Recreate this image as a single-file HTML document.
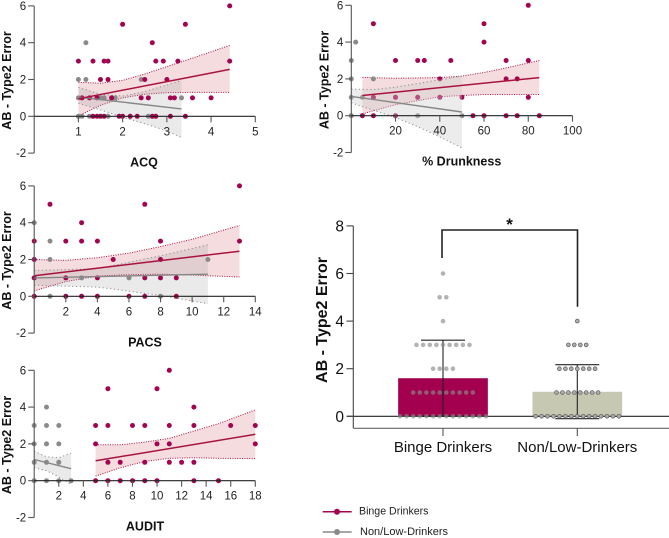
<!DOCTYPE html>
<html>
<head>
<meta charset="utf-8">
<title>AB - Type2 Error charts</title>
<style>
html,body{margin:0;padding:0;background:#fff;width:669px;height:538px;overflow:hidden}
svg{display:block;font-family:"Liberation Sans",sans-serif}
</style>
</head>
<body>
<svg id="figure" xmlns="http://www.w3.org/2000/svg" width="669" height="538" viewBox="0 0 669 538"></svg>
<script>
/* ---------- ACQ ---------- */
const acqXTicks = [1, 2, 3, 4, 5];
const acqBingeX = [4.42, 2, 3.42, 2.67, 1, 1.33, 1.58, 1.67, 2.75, 2.92, 3.25, 4.42, 1.5, 1.67, 2.5, 3, 1.08, 1.25, 1.42, 1.75, 2.42, 2.58, 3.08, 3.17, 3.58, 4, 1.33, 1.42, 1.5, 1.58, 1.92, 2, 2.17, 2.33, 2.67, 2.75, 3.08, 3.42];
const acqBingeY = [6, 5, 5, 4, 3, 3, 3, 3, 3, 3, 3, 3, 2, 2, 2, 2, 1, 1, 1, 1, 1, 1, 1, 1, 1, 1, 0, 0, 0, 0, 0, 0, 0, 0, 0, 0, 0, 0];
const acqNonX = [1.17, 1, 1.17, 2.42, 1, 1.5, 1.58, 1.83, 3.33, 1, 1.08, 1.25, 1.67, 2.58];
const acqNonY = [4, 2, 2, 2, 1, 1, 1, 1, 1, 0, 0, 0, 0, 0];
const acqBingeLineX = [1, 4.42];
const acqBingeLineY = [0.95, 2.55];
const acqBingeBandX = [1, 1.5, 2, 2.5, 3, 3.5, 4.42];
const acqBingeUpper = [1.85, 1.8, 1.95, 2.3, 2.7, 3.1, 3.85];
const acqBingeLower = [0.02, 0.6, 1, 1.2, 1.28, 1.3, 1.3];
const acqNonLineX = [1, 3.33];
const acqNonLineY = [1.05, 0.4];
const acqNonBandX = [1, 1.5, 2, 2.5, 3, 3.33];
const acqNonUpper = [1.57, 1.2, 1.1, 1.35, 1.7, 1.95];
const acqNonLower = [0.7, 0.35, -0.05, -0.4, -0.8, -1.15];

/* ---------- % Drunkness ---------- */
const drunkXTicks = [20, 40, 60, 80, 100];
const drunkBingeX = [80, 10, 60, 60, 20, 30, 33, 45, 70, 80, 40, 70, 75, 10, 20, 30, 40, 50, 80, 5, 10, 20, 55, 60, 70, 75, 85];
const drunkBingeY = [6, 5, 5, 4, 3, 3, 3, 3, 3, 3, 2, 2, 2, 1, 1, 1, 1, 1, 1, 0, 0, 0, 0, 0, 0, 0, 0];
const drunkNonX = [2, 0, 0, 10, 0, 5, 10, 20, 0, 20, 30, 50];
const drunkNonY = [4, 3, 2, 2, 1, 1, 1, 1, 0, 0, 0, 0];
const drunkBingeLineX = [5, 85];
const drunkBingeLineY = [1.1, 2.07];
const drunkBingeBandX = [5, 20, 40, 50, 60, 70, 85];
const drunkBingeUpper = [2.08, 2.03, 2.07, 2.15, 2.35, 2.6, 3];
const drunkBingeLower = [0.1, 0.6, 1.03, 1.1, 1.15, 1.15, 1.15];
const drunkNonLineX = [0, 50];
const drunkNonLineY = [1.05, 0.2];
const drunkNonBandX = [0, 10, 20, 30, 40, 50];
const drunkNonUpper = [1.45, 1.42, 1.55, 1.75, 1.95, 2.15];
const drunkNonLower = [0.7, 0.3, -0.1, -0.6, -1.15, -1.75];

/* ---------- PACS ---------- */
const pacsXTicks = [2, 4, 6, 8, 10, 12, 14];
const pacsBingeX = [13, 1, 7, 3, 0, 2, 3, 4, 8, 13, 0, 5, 8, 0, 2, 4, 7, 8, 9, 0, 2, 3, 4, 6, 7, 9];
const pacsBingeY = [6, 5, 5, 4, 3, 3, 3, 3, 3, 3, 2, 2, 2, 1, 1, 1, 1, 1, 1, 0, 0, 0, 0, 0, 0, 0];
const pacsNonX = [0, 1, 1, 11, 0, 3, 6, 1, 8];
const pacsNonY = [4, 3, 2, 2, 1, 1, 1, 0, 0];
const pacsBingeLineX = [0, 13];
const pacsBingeLineY = [1.12, 2.45];
const pacsBingeBandX = [0, 2, 4, 6, 8, 10, 13];
const pacsBingeUpper = [2, 1.95, 2.1, 2.35, 2.7, 3.1, 3.85];
const pacsBingeLower = [0.3, 0.8, 1.1, 1.18, 1.2, 1.15, 1.05];
const pacsNonLineX = [0, 11];
const pacsNonLineY = [1, 1.2];
const pacsNonBandX = [0, 4, 8, 11];
const pacsNonUpper = [1.4, 1.5, 2.2, 2.8];
const pacsNonLower = [0.6, 0.5, 0.05, -0.4];

/* ---------- AUDIT ---------- */
const auditXTicks = [2, 4, 6, 8, 10, 12, 14, 16, 18];
const auditBingeX = [11, 6, 10, 13, 5, 6, 8, 9, 11, 13, 16, 18, 5, 10, 11, 18, 6, 7, 9, 11, 12, 13, 5, 6, 7, 8, 9, 10, 13, 15];
const auditBingeY = [6, 5, 5, 4, 3, 3, 3, 3, 3, 3, 3, 3, 2, 2, 2, 2, 1, 1, 1, 1, 1, 1, 0, 0, 0, 0, 0, 0, 0, 0];
const auditNonX = [1, 0, 1, 2, 0, 1, 2, 0, 1, 2, 0, 1, 2, 3];
const auditNonY = [4, 3, 3, 3, 2, 2, 2, 1, 1, 1, 0, 0, 0, 0];
const auditBingeLineX = [5, 18];
const auditBingeLineY = [1.08, 2.52];
const auditBingeBandX = [5, 7, 9, 11, 13, 15, 18];
const auditBingeUpper = [1.95, 1.95, 2.1, 2.3, 2.7, 3.1, 3.85];
const auditBingeLower = [0.25, 0.7, 1.05, 1.22, 1.25, 1.22, 1.2];
const auditNonLineX = [0, 3];
const auditNonLineY = [1.15, 0.65];
const auditNonBandX = [0, 1, 2, 3];
const auditNonUpper = [1.6, 1.3, 1.25, 1.5];
const auditNonLower = [0.7, 0.55, 0.2, -0.2];

/* ---------- shared scatter ticks ---------- */
const scatterYTicks = [6, 4, 2, 0, -2];

/* ---------- bar chart ---------- */
const barCategories = ['Binge Drinkers', 'Non/Low-Drinkers'];
const barMeans = [1.6, 1.03];
const barErrUpper = [3.2, 2.17];
const barErrLower = [0, -0.1];
const barYTicks = [8, 6, 4, 2, 0];
const dotLevels = [0, 1, 2, 3, 4, 5, 6];
const bingeDotCounts = [14, 10, 4, 9, 1, 2, 1];
const nonDotCounts = [15, 8, 7, 4, 1, 0, 0];

const NS = 'http://www.w3.org/2000/svg';
const svg = document.getElementById('figure');
const MAROON = '#a3044f';
const RED = '#a8123f';
const GREY = '#8a8a8a';

function mk(tag, parent, attrs, text) {
  const el = document.createElementNS(NS, tag);
  for (const k in attrs) el.setAttribute(k, attrs[k]);
  if (text !== undefined) el.textContent = text;
  parent.appendChild(el);
  return el;
}
function pts(xArr, yArr, sx, sy) {
  return xArr.map((v, i) => sx(v).toFixed(1) + ',' + sy(yArr[i]).toFixed(1)).join(' ');
}

function drawBand(g, prefix, bandX, upper, lower, sx, sy, fill, edge, dash) {
  const rev = bandX.slice().reverse();
  const revLow = lower.slice().reverse();
  const poly = mk('polygon', g, {points: pts(bandX, upper, sx, sy) + ' ' + pts(rev, revLow, sx, sy), fill: fill, stroke: 'none'});
  
  
  const up = mk('polyline', g, {points: pts(bandX, upper, sx, sy), fill: 'none', stroke: edge, 'stroke-width': 1, 'stroke-dasharray': dash});
  
  
  const lo = mk('polyline', g, {points: pts(bandX, lower, sx, sy), fill: 'none', stroke: edge, 'stroke-width': 1, 'stroke-dasharray': dash});
  
  
}
function drawDots(g, prefix, xArr, yArr, sx, sy, color) {
  xArr.forEach((v, i) => {
    const c = mk('circle', g, {cx: sx(v).toFixed(1), cy: sy(yArr[i]).toFixed(1), r: 2.5, fill: color});
    
    
  });
}

function drawPanel(p) {
  const g = mk('g', svg, {});
  
  
  const sx = v => p.x0 + (v - p.xMin) * (p.x1 - p.x0) / (p.xMax - p.xMin);
  const sy = v => p.y0 - v * p.yUnit;

  drawBand(g, p.name + '-binge', p.bBandX, p.bUp, p.bLo, sx, sy, 'rgba(222,150,158,0.33)', '#ad1245', '1 1.4');
  if (!p.greyOnTop) drawBand(g, p.name + '-non', p.nBandX, p.nUp, p.nLo, sx, sy, 'rgba(150,150,150,0.2)', '#8d8d8d', '1.2 2.6');
  drawDots(g, p.name + '-non', p.nX, p.nY, sx, sy, GREY);
  drawDots(g, p.name + '-binge', p.bX, p.bY, sx, sy, MAROON);
  if (p.greyOnTop) drawBand(g, p.name + '-non', p.nBandX, p.nUp, p.nLo, sx, sy, 'rgba(205,205,205,0.38)', '#8d8d8d', '1.2 2.6');

  const nl = mk('polyline', g, {points: pts(p.nLineX, p.nLineY, sx, sy), fill: 'none', stroke: '#868686', 'stroke-width': 1.4});
  
  
  const bl = mk('polyline', g, {points: pts(p.bLineX, p.bLineY, sx, sy), fill: 'none', stroke: RED, 'stroke-width': 1.5});
  
  

  const ya = mk('line', g, {x1: p.x0, x2: p.x0, y1: sy(6), y2: sy(-2), stroke: '#555', 'stroke-width': 1.1});
  
  
  const xa = mk('line', g, {x1: p.x0, x2: p.x1, y1: sy(0), y2: sy(0), stroke: '#222', 'stroke-width': 1.1});
  
  

  scatterYTicks.forEach(t => {
    const tick = mk('line', g, {x1: p.x0 - 6, x2: p.x0, y1: sy(t), y2: sy(t), stroke: '#555', 'stroke-width': 1.1});
    
    
    const lab = mk('text', g, {x: p.x0 - 8, y: sy(t) + 4, 'text-anchor': 'end', 'font-size': 11.5, fill: '#222'}, String(t));
    
    
  });
  p.xTicks.forEach(t => {
    const tick = mk('line', g, {x1: sx(t), x2: sx(t), y1: sy(0), y2: sy(0) + 6, stroke: '#555', 'stroke-width': 1.1});
    
    
    const lab = mk('text', g, {x: sx(t), y: sy(0) + 19, 'text-anchor': 'middle', 'font-size': 11.5, fill: '#222'}, String(t));
    
    
  });

  const yt = mk('text', g, {transform: 'translate(' + (p.x0 - 23) + ',' + (sy(2) + 1) + ') rotate(-90)', 'text-anchor': 'middle', 'font-size': 12.5, 'font-weight': 'bold', fill: '#111'}, 'AB - Type2 Error');
  
  
  const xt = mk('text', g, {x: p.titleX, y: p.y0 + 50, 'text-anchor': 'middle', 'font-size': 12.5, 'font-weight': 'bold', fill: '#111'}, p.title);
  
  
}

drawPanel({name: 'acq', title: 'ACQ', titleX: 144, x0: 34.2, x1: 255.3, xMin: 0, xMax: 5, y0: 116.3, yUnit: 18.4, xTicks: acqXTicks,
  bX: acqBingeX, bY: acqBingeY, nX: acqNonX, nY: acqNonY, bLineX: acqBingeLineX, bLineY: acqBingeLineY, bBandX: acqBingeBandX, bUp: acqBingeUpper, bLo: acqBingeLower,
  nLineX: acqNonLineX, nLineY: acqNonLineY, nBandX: acqNonBandX, nUp: acqNonUpper, nLo: acqNonLower, greyOnTop: false});
drawPanel({name: 'drunkness', title: '% Drunkness', titleX: 461.7, x0: 351.3, x1: 572.5, xMin: 0, xMax: 100, y0: 115.7, yUnit: 18.4, xTicks: drunkXTicks,
  bX: drunkBingeX, bY: drunkBingeY, nX: drunkNonX, nY: drunkNonY, bLineX: drunkBingeLineX, bLineY: drunkBingeLineY, bBandX: drunkBingeBandX, bUp: drunkBingeUpper, bLo: drunkBingeLower,
  nLineX: drunkNonLineX, nLineY: drunkNonLineY, nBandX: drunkNonBandX, nUp: drunkNonUpper, nLo: drunkNonLower, greyOnTop: true});
drawPanel({name: 'pacs', title: 'PACS', titleX: 145, x0: 34.2, x1: 255.3, xMin: 0, xMax: 14, y0: 296.3, yUnit: 18.4, xTicks: pacsXTicks,
  bX: pacsBingeX, bY: pacsBingeY, nX: pacsNonX, nY: pacsNonY, bLineX: pacsBingeLineX, bLineY: pacsBingeLineY, bBandX: pacsBingeBandX, bUp: pacsBingeUpper, bLo: pacsBingeLower,
  nLineX: pacsNonLineX, nLineY: pacsNonLineY, nBandX: pacsNonBandX, nUp: pacsNonUpper, nLo: pacsNonLower, greyOnTop: false});
drawPanel({name: 'audit', title: 'AUDIT', titleX: 145, x0: 34.2, x1: 255.3, xMin: 0, xMax: 18, y0: 480.7, yUnit: 18.4, xTicks: auditXTicks,
  bX: auditBingeX, bY: auditBingeY, nX: auditNonX, nY: auditNonY, bLineX: auditBingeLineX, bLineY: auditBingeLineY, bBandX: auditBingeBandX, bUp: auditBingeUpper, bLo: auditBingeLower,
  nLineX: auditNonLineX, nLineY: auditNonLineY, nBandX: auditNonBandX, nUp: auditNonUpper, nLo: auditNonLower, greyOnTop: false});

/* ---------- bar chart drawing ---------- */
(function () {
  const g = mk('g', svg, {});
  
  
  const by = v => 416.3 - v * 23.8;
  const centers = [443, 577.3];
  const barW = 89.7;

  barMeans.forEach((m, i) => {
    const r = mk('rect', g, {x: centers[i] - barW / 2, y: by(m), width: barW, height: by(0) - by(m), fill: i === 0 ? '#a3004f' : '#c6c8b2'});
    
    
  });

  const zero = mk('line', g, {x1: 347, x2: 669, y1: by(0), y2: by(0), stroke: '#222', 'stroke-width': 1.1});
  
  

  barMeans.forEach((m, i) => {
    const s = mk('line', g, {x1: centers[i], x2: centers[i], y1: by(barErrUpper[i]), y2: by(barErrLower[i]), stroke: '#222', 'stroke-width': 1.1});
    
    
    const u = mk('line', g, {x1: centers[i] - 22, x2: centers[i] + 22, y1: by(barErrUpper[i]), y2: by(barErrUpper[i]), stroke: '#222', 'stroke-width': 1.1});
    
    
    const d = mk('line', g, {x1: centers[i] - 22, x2: centers[i] + 22, y1: by(barErrLower[i]), y2: by(barErrLower[i]), stroke: '#222', 'stroke-width': 1.1});
    
    
  });

  const stepB = 6.62, stepN = 5.95;
  [bingeDotCounts, nonDotCounts].forEach((counts, i) => {
    counts.forEach((n, l) => {
      const step = i === 0 ? stepB : stepN;
      for (let k = 0; k < n; k++) {
        const cx = centers[i] + (k - (n - 1) / 2) * step;
        const c = mk('circle', g, i === 0
          ? {cx: cx.toFixed(1), cy: by(dotLevels[l]).toFixed(1), r: 2.3, fill: '#8a8a8a', 'fill-opacity': 0.65}
          : {cx: cx.toFixed(1), cy: by(dotLevels[l]).toFixed(1), r: 1.9, fill: '#aeaeae', stroke: '#666', 'stroke-width': 0.8});
        
        
      }
    });
  });

  const ya = mk('line', g, {x1: 353.3, x2: 353.3, y1: by(8), y2: 428.3, stroke: '#444', 'stroke-width': 1.1});
  
  
  const xa = mk('line', g, {x1: 353.3, x2: 669, y1: 428.3, y2: 428.3, stroke: '#666', 'stroke-width': 1.2});
  
  

  barYTicks.forEach(t => {
    const tick = mk('line', g, {x1: 346.5, x2: 353.3, y1: by(t), y2: by(t), stroke: '#444', 'stroke-width': 1.1});
    
    
    const lab = mk('text', g, {x: 344, y: by(t) + 5.5, 'text-anchor': 'end', 'font-size': 15.5, fill: '#111'}, String(t));
    
    
  });
  barCategories.forEach((name, i) => {
    const tick = mk('line', g, {x1: centers[i], x2: centers[i], y1: 428.3, y2: 436, stroke: '#555', 'stroke-width': 1.1});
    
    
    const lab = mk('text', g, {x: centers[i], y: 452, 'text-anchor': 'middle', 'font-size': 15, fill: '#111'}, name);
    
    
  });

  const yt = mk('text', g, {transform: 'translate(327,320) rotate(-90)', 'text-anchor': 'middle', 'font-size': 16, 'font-weight': 'bold', fill: '#111'}, 'AB - Type2 Error');
  
  

  const br = mk('polyline', g, {points: '442,258 442,230 577.5,230 577.5,306.7', fill: 'none', stroke: '#222', 'stroke-width': 1.6});
  
  
  const st = mk('text', g, {x: 509.5, y: 230, 'text-anchor': 'middle', 'font-size': 17, 'font-weight': 'bold', fill: '#111'}, '*');
  
  
})();

/* ---------- legend ---------- */
(function () {
  const g = mk('g', svg, {});
  
  

  const l1 = mk('line', g, {x1: 322.7, x2: 351.7, y1: 511.7, y2: 511.7, stroke: MAROON, 'stroke-width': 1.5});
  
  
  const c1 = mk('circle', g, {cx: 337, cy: 511.7, r: 3, fill: MAROON});
  
  
  const t1 = mk('text', g, {x: 359, y: 514.5, 'font-size': 10.6, fill: '#222'}, 'Binge Drinkers');
  
  

  const l2 = mk('line', g, {x1: 322.7, x2: 351.7, y1: 532, y2: 532, stroke: GREY, 'stroke-width': 1.5});
  
  
  const c2 = mk('circle', g, {cx: 337, cy: 532, r: 3, fill: GREY});
  
  
  const t2 = mk('text', g, {x: 360, y: 535, 'font-size': 11, fill: '#222'}, 'Non/Low-Drinkers');
  
  
})();
</script>
</body>
</html>
